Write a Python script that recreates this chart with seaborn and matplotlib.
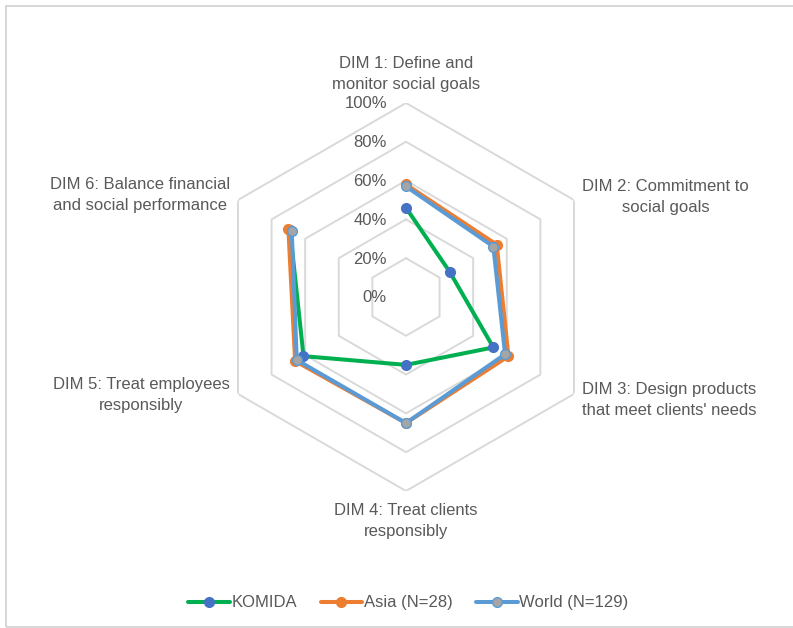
import numpy as np
import pandas as pd
import matplotlib
matplotlib.use('Agg')
import matplotlib.pyplot as plt
import matplotlib.transforms as mtransforms
import seaborn as sns

# data
dims = ['DIM 1: Define and\nmonitor social goals',
        'DIM 2: Commitment to\nsocial goals',
        "DIM 3: Design products\nthat meet clients' needs",
        'DIM 4: Treat clients\nresponsibly',
        'DIM 5: Treat employees\nresponsibly',
        'DIM 6: Balance financial\nand social performance']
komida = [0.46, 0.26, 0.52, 0.35, 0.61, 0.69]
asia = [0.58, 0.54, 0.61, 0.65, 0.66, 0.70]
world = [0.57, 0.52, 0.59, 0.65, 0.65, 0.68]
series_names = ['KOMIDA', 'Asia (N=28)', 'World (N=129)']
ticks = [0.0, 0.2, 0.4, 0.6, 0.8, 1.0]
tick_labels = ['0%', '20%', '40%', '60%', '80%', '100%']

sns.set_theme(style='white')
plt.rcParams['font.family'] = ['Liberation Sans', 'DejaVu Sans']
text_col = '#595959'
grid_col = '#D9D9D9'

fig = plt.figure(figsize=(7.93, 6.28), dpi=100)
ax = fig.add_axes([0.2673, 0.2182, 0.4893, 0.6178], projection='polar')
ax.set_theta_zero_location('N')
ax.set_theta_direction(-1)
ax.set_ylim(0, 1)
ax.grid(False)
ax.spines['polar'].set_visible(False)
ax.set_facecolor('none')

n = len(dims)
angles = np.linspace(0, 2 * np.pi, n, endpoint=False)
closed = np.append(angles, angles[0])

# hexagon gridlines
for t in ticks[1:]:
    ax.plot(closed, [t] * (n + 1), color=grid_col, lw=1.4, zorder=1)

# series
styles = {
    'KOMIDA': dict(color='#00B050', mfc='#4472C4', mec='#4472C4'),
    'Asia (N=28)': dict(color='#ED7D31', mfc='#ED7D31', mec='#ED7D31'),
    'World (N=129)': dict(color='#5B9BD5', mfc='#A5A5A5', mec='#5B9BD5'),
}
rows = []
for name, vals in zip(series_names, [komida, asia, world]):
    for a, v in zip(closed, vals + [vals[0]]):
        rows.append({'series': name, 'angle': a, 'value': v})
df = pd.DataFrame(rows)

for name in series_names:
    st = styles[name]
    sub = df[df['series'] == name]
    sns.lineplot(data=sub, x='angle', y='value', sort=False, ax=ax,
                 color=st['color'], lw=2.9, marker='o', markersize=7,
                 markerfacecolor=st['mfc'], markeredgecolor=st['mec'],
                 markeredgewidth=1.0, label=name, zorder=3)
ax.set_xlabel('')
ax.set_ylabel('')
ax.set_xticks([])
ax.set_yticks([])
ax.set_ylim(0, 1)

# radial tick labels
off = mtransforms.offset_copy(ax.transData, fig=fig, x=-19, y=-1, units='dots')
for t, lab in zip(ticks, tick_labels):
    ax.text(0, t, lab, transform=off, ha='right', va='center',
            fontsize=12, color=text_col)

# category labels
lab_pos = [
    (0, 1.055, 'center', 'bottom', 0, 0),
    (1, 1.0, 'left', 'center', 8, 3),
    (2, 1.0, 'left', 'center', 8, -6),
    (3, 1.06, 'center', 'top', 0, 0),
    (4, 1.0, 'right', 'center', -8, -1),
    (5, 1.0, 'right', 'center', -8, 5),
]
for i, r, ha, va, dx, dy in lab_pos:
    tr = mtransforms.offset_copy(ax.transData, fig=fig, x=dx, y=dy, units='dots')
    ax.text(angles[i], r, dims[i], transform=tr, ha=ha, va=va,
            fontsize=12, color=text_col, linespacing=1.5,
            multialignment='center')

ax.legend().remove()
handles, labels = ax.get_legend_handles_labels()
leg = fig.legend(handles, labels, loc='center', bbox_to_anchor=(0.515, 0.04),
                 ncol=3, frameon=False, fontsize=12, handlelength=2.5,
                 handletextpad=0.1, columnspacing=1.4, labelcolor=text_col)

# chart border (top/left visible)
fig.patches.append(plt.Rectangle((6 / 793, 1 / 628), 1.2, 1 - 7 / 628,
                                 transform=fig.transFigure, fill=False,
                                 edgecolor='#D0D0D0', lw=1.2))

fig.savefig('out.png', dpi=100)
